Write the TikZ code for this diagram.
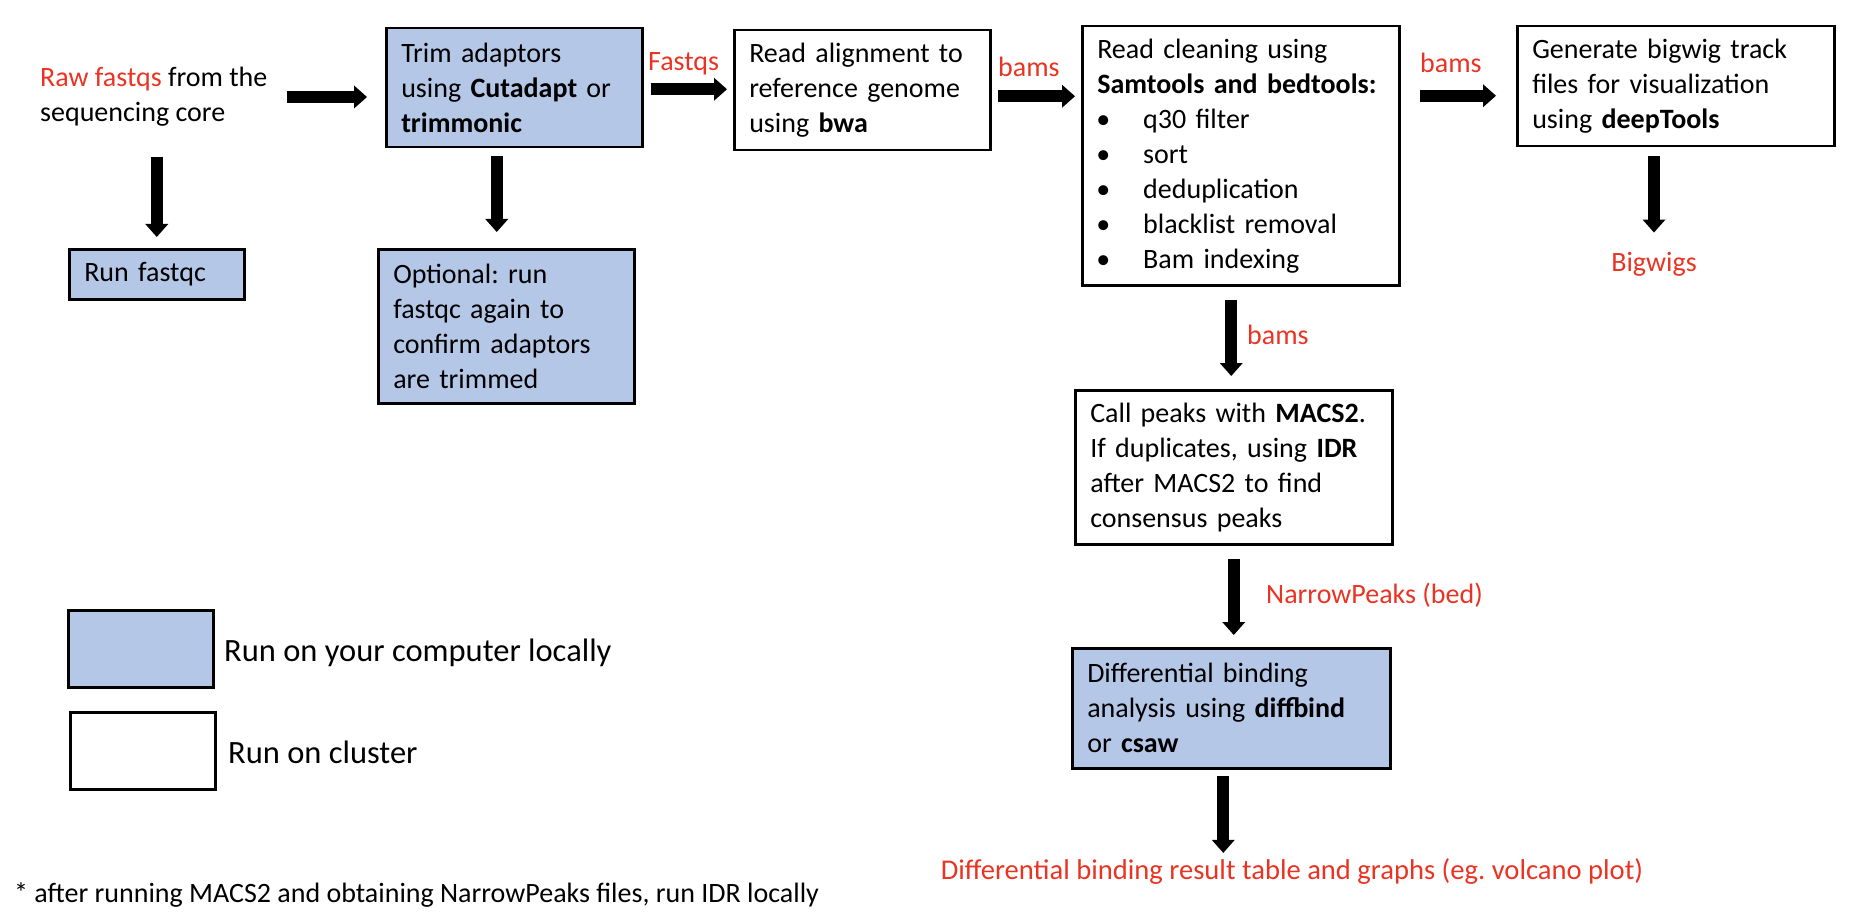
\documentclass[tikz,border=0pt]{standalone}
\usepackage{fontspec}
\setmainfont{Carlito}
\usetikzlibrary{arrows.meta}
\definecolor{lblue}{RGB}{180,199,231}
\definecolor{lred}{RGB}{234,51,35}
\newcommand{\mybul}{\hspace{-1pt}\makebox[47pt][l]{\textbullet}}
\frenchspacing
\begin{document}
\begin{tikzpicture}[x=1pt,y=-1pt,
  every node/.style={font=\fontsize{28}{35}\selectfont, inner sep=0pt},
  box/.style={draw, line width=2.5pt, rectangle, inner xsep=15pt, inner ysep=3pt,
              align=left, anchor=north west},
  local/.style={fill=lblue},
  lbl/.style={text=lred, anchor=base west},
  barrow/.style={line width=12pt, -{Triangle[width=23pt,length=13pt,line width=0pt]}},
  legtxt/.style={font=\fontsize{32.5}{38}\selectfont, anchor=base west}
]
\useasboundingbox (0,0) rectangle (1858,912);

% process boxes
\node[box, local, text width=226pt, minimum width=256pt, minimum height=119pt] (trim) at (385,27)
  {Trim adaptors\\using \textbf{Cutadapt} or\\\textbf{trimmonic}};
\node[box, local, text width=145pt, minimum width=175pt, minimum height=50pt] (runfq) at (68,248)
  {Run fastqc};
\node[box, local, text width=226pt, minimum width=256pt, minimum height=154pt] (optional) at (377,248)
  {Optional: run\\fastqc again to\\confirm adaptors\\are trimmed};
\node[box, text width=226pt, minimum width=256pt, minimum height=120pt] (align) at (733,29)
  {Read alignment to\\reference genome\\using \textbf{bwa}};
\node[box, text width=287pt, minimum width=317pt, minimum height=259pt] (clean) at (1081,25)
  {Read cleaning using\\\textbf{Samtools and bedtools:}\\\mybul q30 filter\\\mybul sort\\\mybul deduplication\\\mybul blacklist removal\\\mybul Bam indexing};
\node[box, text width=287pt, minimum width=317pt, minimum height=120pt] (gen) at (1516,25)
  {Generate bigwig track\\files for visualization\\using \textbf{deepTools}};
\node[box, text width=287pt, minimum width=317pt, minimum height=154pt] (peaks) at (1074,389)
  {Call peaks with \textbf{MACS2}.\\If duplicates, using \textbf{IDR}\\after MACS2 to find\\consensus peaks};
\node[box, local, text width=288pt, minimum width=318pt, minimum height=120pt] (diff) at (1071,647)
  {Differential binding\\analysis using \textbf{diffbind}\\or \textbf{csaw}};

% free texts
\node[anchor=west, align=left] (raw) at (40,97)
  {\textcolor{lred}{Raw fastqs} from the\\sequencing core};
\node[text=lred, anchor=base] (bigwigs) at (1654,271) {Bigwigs};
\node[text=lred, anchor=base, font=\fontsize{28.6}{35}\selectfont] (final) at (1292,879)
  {Differential binding result table and graphs (eg. volcano plot)};

% edge labels
\node[lbl] (lfastqs) at (648,71) {Fastqs};
\node[lbl] (lbams1) at (998,77) {bams};
\node[lbl] (lbams2) at (1420,73) {bams};
\node[lbl] (lbams3) at (1247,344) {bams};
\node[lbl] (lnarrow) at (1266,603) {NarrowPeaks (bed)};

% arrows
\draw[barrow, shorten <=19pt, shorten >=18pt] (raw.east) -- (raw.east -| trim.west);
\draw[barrow, shorten <=30pt, shorten >=11pt] (runfq.north |- raw.south) -- (runfq.north);
\draw[barrow, shorten <=8pt, shorten >=16pt] ([xshift=-17.5pt]trim.south) -- ([xshift=-17.5pt]trim.south |- optional.north);
\draw[barrow, shorten <=7pt, shorten >=6pt] ([yshift=-1.5pt]trim.east) -- ([yshift=-1.5pt]trim.east -| align.west);
\draw[barrow, shorten <=6pt, shorten >=6pt] ([yshift=-6pt]align.east) -- ([yshift=-6pt]align.east -| clean.west);
\draw[barrow, shorten <=19pt, shorten >=20pt] ([yshift=-9.5pt]gen.west -| clean.east) -- ([yshift=-9.5pt]gen.west);
\draw[barrow, shorten <=9pt, shorten >=19pt] (bigwigs.north |- gen.south) -- (bigwigs.north);
\draw[barrow, shorten <=13pt, shorten >=13pt] ([xshift=-9.5pt]clean.south) -- ([xshift=-9.5pt]clean.south |- peaks.north);
\draw[barrow, shorten <=13pt, shorten >=12pt] (peaks.south) -- (peaks.south |- diff.north);
\draw[barrow, shorten <=6pt, shorten >=5pt] ([xshift=-8pt]diff.south) -- ([xshift=-8pt]diff.south |- final.north);

% legend
\node[box, local, minimum width=145pt, minimum height=77pt] (legblue) at (67,609) {};
\node[box, minimum width=145pt, minimum height=77pt] (legwhite) at (69,711) {};
\node[legtxt] (leglocal) at (224,661) {Run on your computer locally};
\node[legtxt] (legcluster) at (228,763) {Run on cluster};

% footnote
\node[anchor=base west] (foot) at (14,902)
  {* after running MACS2 and obtaining NarrowPeaks files, run IDR locally};
\end{tikzpicture}
\end{document}
